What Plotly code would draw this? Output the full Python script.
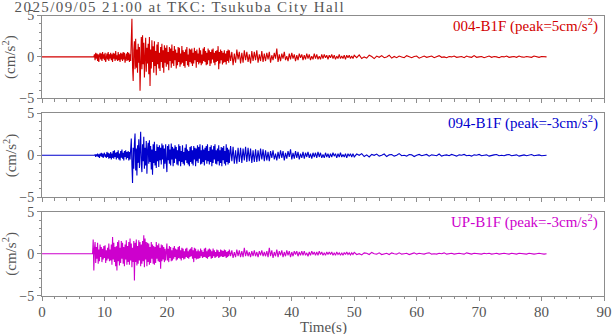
import numpy as np
import plotly.graph_objects as go
from plotly.subplots import make_subplots

# ---- Recorded accelerations (cm/s^2) ------------------------------------
RECORD_START = 0.0                 # quiet record before the first arrival
STRONG_T0, STRONG_DT = 8.0, 0.1    # strong motion, 8.0 .. 29.9 s
EARLY_T0, EARLY_DT = 30.0, 0.2     # early coda, 30.0 .. 49.8 s
LATE_T0, LATE_DT = 50.0, 0.4       # late coda, 50.0 .. 80.8 s

channels = ["004-B1F", "094-B1F", "UP-B1F"]
peaks = ["5", "-3", "-3"]
colors = ["#d20000", "#0000cd", "#cd00cd"]

ns004_strong = [
    0.0, 0.0, 0.0, 0.0, 0.3, -0.4, 0.5, -0.2, 0.4, -0.5,
    0.3, -0.6, 0.2, 0.5, -0.3, 0.4, -0.5, 0.6, -0.2, 0.3,
    -0.4, 0.5, -0.6, 0.2, 0.4, -0.3, 0.6, -0.5, 0.3, -0.2,
    0.5, -0.4, 0.3, -0.6, 0.5, -0.2, 0.4, -0.5, 0.7, -0.3,
    0.2, -0.5, 0.6, -0.4, 0.3, -0.6, 0.5, -0.3, 0.4, -0.5,
    0.6, -0.3, 0.5, -0.7, 0.2, 0.4, -0.5, 0.6, -0.4, 0.5,
    -0.6, 0.3, -0.5, 1.5, 4.6, -1.2, -2.9, 0.8, 1.9, -1.5,
    2.2, -1.3, 0.9, -1.9, 1.6, -0.7, 1.2, -4.1, 0.6, 2.4,
    -1.5, 2.6, -0.9, 1.7, -2.5, 0.6, 2.3, -1.8, 1.1, -0.8,
    1.6, -2.1, 2.4, -3.5, 0.9, -1.4, 2.0, -0.6, 1.3, -1.9,
    1.9, -1.1, 0.7, -2.2, 1.5, -0.9, 1.8, -1.4, 0.5, -1.7,
    1.2, -0.6, 1.6, -1.3, 0.8, -1.9, 1.4, -0.7, 1.1, -1.2,
    1.4, -0.9, 0.6, -1.6, 1.2, -0.5, 1.0, -1.3, 1.5, -0.8,
    0.7, -1.1, 1.3, -0.4, 0.9, -1.4, 0.5, -1.0, 1.2, -0.6,
    1.1, -1.2, 0.4, -0.9, 1.3, -0.7, 0.8, -1.1, 0.6, -1.3,
    0.9, -0.5, 1.2, -1.0, 0.3, -1.2, 1.0, -0.6, 0.9, -0.8,
    1.0, -1.1, 0.5, -0.8, 1.1, -0.4, 0.7, -1.3, 0.9, -0.6,
    0.4, -0.9, 1.1, -0.7, 0.8, -1.0, 0.3, -0.8, 1.0, -0.5,
    1.2, -0.6, 0.7, -1.0, 0.5, -0.9, 1.0, -0.4, 0.8, -1.1,
    0.6, -0.8, 0.9, -0.3, 1.0, -0.7, 0.5, -1.0, 0.7, -0.6,
    0.8, -0.5, 1.3, -1.5, 0.6, -0.8, 0.9, -0.4, 0.7, -0.9,
    0.5, -0.7, 0.8, -0.6, 0.4, -0.9, 0.7, -0.5, 0.9, -0.7,
]
ns004_early = [
    0.8, -0.5, 0.6, -1.0, 0.4, -0.7, 0.9, -0.3, 0.6, -0.8,
    0.5, -0.7, 0.8, -0.4, 0.6, -0.6, 0.3, -0.8, 0.7, -0.5,
    0.6, -0.4, 0.8, -0.7, 0.3, -0.5, 0.7, -0.6, 0.4, -0.5,
    0.5, -0.3, 0.6, -0.7, 0.2, -0.4, 0.5, -0.2, 1.0, -0.6,
    0.3, -0.5, 0.4, -0.2, 0.6, -0.4, 0.1, -0.5, 0.4, -0.3,
    0.5, -0.2, 0.3, -0.5, 0.2, -0.4, 0.4, -0.1, 0.3, -0.4,
    0.2, -0.3, 0.4, -0.2, 0.3, -0.4, 0.1, -0.3, 0.4, -0.2,
    0.3, -0.3, 0.1, -0.3, 0.3, -0.2, 0.3, -0.1, 0.2, -0.3,
    0.2, -0.1, 0.3, -0.2, 0.2, -0.3, 0.1, -0.2, 0.3, -0.2,
    0.1, -0.2, 0.2, -0.3, 0.2, -0.1, 0.2, -0.2, 0.1, -0.2,
]
ns004_late = [
    0.2, -0.1, 0.25, -0.2, 0.0, -0.15, 0.2, 0.05, -0.2, 0.1,
    -0.05, 0.15, -0.1, 0.0, 0.2, -0.15, 0.05, -0.1, 0.1, 0.0,
    -0.1, 0.15, 0.0, -0.1, 0.05, 0.1, -0.15, 0.0, 0.1, -0.05,
    0.0, 0.1, -0.1, 0.05, 0.15, -0.05, 0.0, -0.1, 0.05, 0.0,
    0.1, -0.05, 0.0, 0.05, -0.1, 0.1, 0.0, -0.05, 0.15, -0.05,
    0.0, 0.05, -0.1, 0.0, 0.1, -0.05, 0.05, 0.0, -0.1, 0.05,
    0.0, 0.1, -0.05, 0.0, 0.05, -0.05, 0.1, 0.0, -0.05, 0.05,
    0.0, -0.05, 0.1, 0.0, -0.05, 0.05, 0.0, 0.0,
]

ew094_strong = [
    0.0, 0.0, 0.0, 0.0, 0.0, 0.1, -0.2, 0.1, -0.1, 0.2,
    -0.2, 0.1, -0.3, 0.2, -0.1, 0.3, -0.2, 0.2, -0.3, 0.1,
    0.3, -0.2, 0.1, -0.3, 0.4, -0.2, 0.3, -0.4, 0.2, -0.3,
    0.4, -0.5, 0.2, -0.3, 0.5, -0.4, 0.6, -0.2, 0.3, -0.5,
    0.4, -0.3, 0.6, -0.5, 0.2, -0.6, 0.5, -0.3, 0.7, -0.4,
    0.3, -0.6, 0.5, -0.2, 0.6, -0.5, 0.4, -0.3, 0.5, -0.6,
    0.4, -0.5, 0.7, 2.0, -1.2, -3.3, 0.9, -1.6, 1.4, 2.6,
    -1.8, 0.8, -2.4, 1.2, -0.9, 1.9, -1.5, 0.6, 2.8, -1.1,
    -2.0, 1.3, -0.7, 2.2, -1.6, 0.9, -1.2, 1.7, -2.2, 0.6,
    1.5, -1.0, 1.8, -0.8, 1.1, -1.7, 0.7, -2.3, 1.3, -0.9,
    1.6, -1.2, 0.5, -1.5, 1.3, -0.7, 1.0, -1.4, 1.2, -0.6,
    0.9, -1.1, 1.4, -0.5, 1.2, -1.6, 0.8, -1.0, 1.3, -0.8,
    -2.0, 1.1, -0.6, 1.3, -1.0, 0.7, -1.2, 1.4, -0.5, 1.0,
    -1.3, 0.8, -0.9, 1.2, -0.4, 1.0, -1.1, 0.6, -1.2, 1.3,
    -0.7, 1.1, -1.3, 0.5, -0.8, 1.2, -1.0, 0.4, -1.2, 0.9,
    -0.6, 1.3, -0.9, 0.7, -1.1, 0.5, -1.3, 1.0, -0.8, 1.1,
    -1.0, 0.6, -1.2, 1.1, -0.5, 0.9, -1.3, 0.8, -0.7, 1.2,
    -0.9, 1.0, -0.4, 1.3, -1.1, 0.6, -1.0, 1.2, -0.8, 0.7,
    -1.2, 0.9, -0.6, 1.1, -1.0, 1.3, -0.7, 0.5, -1.1, 1.0,
    -0.8, 1.2, -1.3, 0.7, -0.9, 1.1, -0.5, 1.3, -1.0, 0.6,
    -1.1, 0.8, -0.7, 1.2, -1.2, 0.6, -0.9, 1.0, -1.3, 0.9,
    -0.6, 1.1, -1.0, 0.5, -1.2, 1.3, -0.8, 0.9, -1.1, 0.7,
]
ew094_early = [
    -0.9, 1.1, -0.7, 1.0, -1.0, 0.6, -1.0, 0.9, -0.8, 0.9,
    -0.9, 0.8, -0.6, 1.0, -0.8, 0.9, -0.7, 0.8, -0.9, 0.6,
    -0.8, 0.7, -0.8, 0.6, -0.7, 0.8, -0.5, 0.7, -0.7, 0.6,
    -0.6, 0.4, -0.7, 0.5, -0.3, 0.6, -0.5, 0.2, -0.6, 0.4,
    -0.4, 0.6, -0.3, 0.5, -0.6, 0.3, -0.4, 0.5, -0.2, 0.7,
    -0.5, 0.3, -0.4, 0.5, -0.3, 0.4, -0.5, 0.2, -0.3, 0.4,
    -0.4, 0.3, -0.2, 0.4, -0.3, 0.2, -0.4, 0.3, -0.2, 0.3,
    -0.3, 0.4, -0.2, 0.3, -0.3, 0.1, -0.3, 0.3, -0.2, 0.2,
    -0.3, 0.2, -0.2, 0.3, -0.1, 0.2, -0.3, 0.2, -0.2, 0.3,
    -0.2, 0.1, -0.2, 0.2, -0.3, 0.2, -0.1, 0.2, -0.2, 0.2,
]
ew094_late = [
    -0.2, 0.15, 0.0, 0.2, -0.15, 0.05, -0.2, 0.1, 0.0, 0.15,
    -0.1, 0.0, 0.15, -0.15, 0.05, 0.1, -0.1, 0.0, 0.2, -0.05,
    0.0, -0.1, 0.1, 0.05, -0.15, 0.0, 0.1, -0.05, 0.0, 0.1,
    -0.1, 0.05, 0.0, -0.05, 0.15, -0.1, 0.0, 0.05, -0.05, 0.1,
    0.0, -0.1, 0.05, 0.0, 0.1, -0.05, 0.0, -0.1, 0.05, 0.0,
    0.1, -0.05, 0.0, 0.05, -0.1, 0.0, 0.05, 0.1, -0.05, 0.0,
    -0.05, 0.05, 0.1, -0.05, 0.0, 0.05, -0.1, 0.0, 0.05, -0.05,
    0.0, 0.1, -0.05, 0.0, 0.05, -0.05, 0.0, 0.0,
]

ud_strong = [
    0.0, 0.0, 1.7, -2.0, 0.6, 1.4, -1.1, 0.8, -0.6, 1.3,
    -1.2, 0.5, -0.9, 1.1, -0.4, 0.8, -1.0, 0.6, -0.7, 0.9,
    -0.5, 1.0, -1.1, 0.4, -0.8, 0.7, -0.6, 1.2, -0.9, 0.5,
    -0.8, 1.1, -1.3, 2.0, -0.7, 1.3, -1.0, 0.8, -1.5, 0.9,
    -2.0, 1.4, -0.9, 1.6, -1.4, 0.7, -1.1, 1.5, -0.6, 1.3,
    -1.2, 0.8, -1.5, 1.1, -0.7, 1.6, -1.3, 0.9, -1.0, 1.4,
    -1.3, 1.8, -0.8, 1.2, -1.6, 0.7, -1.0, 1.5, -3.2, 1.3,
    -1.0, 1.7, -1.4, 0.9, -1.2, 1.6, -0.8, 1.4, -1.5, 1.1,
    -1.2, 1.5, -0.9, 2.2, -1.6, 1.8, -0.7, 1.4, -1.5, 1.3,
    -1.0, 1.2, -1.3, 0.8, -1.1, 1.4, -0.6, 1.1, -1.2, 0.9,
    -1.3, 0.8, -1.1, 1.4, -0.6, 1.0, -0.9, 1.2, -1.0, 0.7,
    -1.8, 1.1, -0.9, 1.0, -0.7, 0.8, -1.0, 0.6, -0.8, 0.9,
    1.2, -0.8, 0.6, -1.0, 0.9, -0.5, 0.8, -0.9, 0.4, -0.8,
    0.7, -0.6, 0.9, -0.4, 0.6, -0.8, 0.5, -0.7, 0.8, -0.5,
    0.9, -0.6, 0.4, -0.8, 0.7, -0.5, 0.6, -0.7, 0.3, -0.6,
    0.6, -0.4, 0.7, -0.5, 0.3, -0.6, 0.5, -0.4, 0.6, -0.3,
    0.8, -0.6, 0.4, -1.0, 0.7, -0.5, 0.6, -0.7, 0.3, -0.6,
    0.5, -0.6, 0.3, -0.5, 0.6, -0.3, 0.4, -0.5, 0.2, -0.4,
    0.6, -0.4, 0.7, -0.5, 0.3, -0.6, 0.5, -0.4, 0.6, -0.3,
    0.5, -0.6, 0.3, -0.5, 0.6, -0.3, 0.4, -0.5, 0.2, -0.4,
    0.5, -0.3, 0.4, -0.5, 0.2, -0.4, 0.5, -0.3, 0.4, -0.4,
    0.3, -0.4, 0.5, -0.3, 0.4, -0.5, 0.2, -0.4, 0.3, -0.3,
]
ud_early = [
    0.5, -0.3, 0.4, -0.5, 0.2, -0.4, 0.5, -0.3, 0.4, -0.4,
    0.3, -0.4, 0.7, -0.3, 0.4, -0.3, 0.2, -0.4, 0.3, -0.3,
    0.4, -0.3, 0.2, -0.4, 0.3, -0.2, 0.4, -0.3, 0.2, -0.3,
    0.3, -0.4, 0.7, -0.3, 0.4, -0.5, 0.2, -0.3, 0.5, -0.4,
    0.3, -0.2, 0.4, -0.4, 0.2, -0.3, 0.4, -0.2, 0.3, -0.4,
    0.2, -0.3, 0.3, -0.1, 0.3, -0.3, 0.2, -0.2, 0.3, -0.2,
    0.3, -0.2, 0.1, -0.3, 0.2, -0.2, 0.3, -0.1, 0.2, -0.2,
    0.2, -0.2, 0.3, -0.1, 0.2, -0.2, 0.1, -0.2, 0.2, -0.1,
    0.2, -0.1, 0.2, -0.2, 0.1, -0.2, 0.2, -0.1, 0.1, -0.2,
    0.1, -0.2, 0.15, -0.1, 0.2, -0.1, 0.1, -0.15, 0.1, -0.1,
]
ud_late = [
    0.15, -0.1, 0.0, -0.15, 0.1, 0.05, -0.1, 0.15, 0.0, -0.05,
    0.1, -0.1, 0.0, 0.05, -0.1, 0.1, 0.0, -0.05, 0.1, -0.05,
    0.0, 0.05, -0.1, 0.0, 0.1, -0.05, 0.05, 0.0, -0.05, 0.05,
    0.1, -0.05, 0.0, -0.05, 0.05, 0.0, 0.1, -0.05, 0.0, 0.05,
    -0.05, 0.0, 0.05, 0.0, -0.05, 0.1, 0.0, -0.05, 0.05, 0.0,
    0.0, -0.05, 0.05, 0.0, 0.05, -0.05, 0.0, 0.05, -0.05, 0.0,
    0.05, 0.0, -0.05, 0.05, 0.0, -0.05, 0.05, 0.0, 0.0, -0.05,
    0.05, 0.0, -0.05, 0.0, 0.05, 0.0, -0.05, 0.0,
]

records = [
    (ns004_strong, ns004_early, ns004_late),
    (ew094_strong, ew094_early, ew094_late),
    (ud_strong, ud_early, ud_late),
]

# ---- Page geometry (pixels) ---------------------------------------------
W, H = 612, 334
ML, MR, MT, MB = 42, 8, 15, 38
panel_px = [(15.5, 98.3), (113.3, 197.3), (211.7, 295.7)]
plot_h = H - MT - MB
domains = [[1 - (b - MT) / plot_h, 1 - (t - MT) / plot_h] for t, b in panel_px]
domains = [[max(0.0, d0), min(1.0, d1)] for d0, d1 in domains]

FONT = "Liberation Serif"
TXT = "#555555"
AX = "#8c8c8c"

fig = make_subplots(rows=3, cols=1, shared_xaxes=False)

for i, ((strong, early, late), color) in enumerate(zip(records, colors)):
    t = np.concatenate([
        [RECORD_START],
        STRONG_T0 + STRONG_DT * np.arange(len(strong)),
        EARLY_T0 + EARLY_DT * np.arange(len(early)),
        LATE_T0 + LATE_DT * np.arange(len(late)),
    ])
    a = np.concatenate([[0.0], strong, early, late])
    fig.add_trace(
        go.Scatter(x=t, y=a, mode="lines", line=dict(color=color, width=1.1),
                   showlegend=False, hoverinfo="skip"),
        row=i + 1, col=1,
    )

for i in range(3):
    last = i == 2
    fig.update_xaxes(
        row=i + 1, col=1, range=[0, 90], tick0=0, dtick=10, automargin=False,
        ticks="outside", ticklen=4, tickcolor=AX, tickwidth=1,
        minor=dict(dtick=2, ticks="outside", ticklen=2.5, tickcolor=AX),
        showticklabels=last, ticklabelstandoff=-2,
        showgrid=False, zeroline=False,
        showline=True, linecolor=AX, linewidth=1, mirror=True,
        tickfont=dict(family=FONT, size=15, color=TXT),
    )
    fig.update_yaxes(
        row=i + 1, col=1, range=[-5, 5], tickvals=[-5, 0, 5], automargin=False,
        ticks="outside", ticklen=4, tickcolor=AX, tickwidth=1,
        minor=dict(dtick=1, ticks="outside", ticklen=2.5, tickcolor=AX),
        showgrid=False, zeroline=False,
        showline=True, linecolor=AX, linewidth=1, mirror=True,
        tickfont=dict(family=FONT, size=14, color=TXT),
        domain=domains[i],
    )

for i in range(3):
    d0, d1 = domains[i]
    fig.add_annotation(
        xref="paper", yref="paper", x=(10 - ML) / (W - ML - MR), y=(d0 + d1) / 2,
        text="(cm/s<sup>2</sup>)", textangle=-90, showarrow=False,
        xanchor="center", yanchor="middle",
        font=dict(family=FONT, size=15, color=TXT),
    )
    fig.add_annotation(
        xref="paper", yref="paper", x=1, y=d1, xanchor="right", yanchor="top",
        xshift=-4, yshift=2, showarrow=False,
        text=f"{channels[i]} (peak={peaks[i]}cm/s<sup>2</sup>)",
        font=dict(family=FONT, size=15, color=colors[i]),
    )

# x-axis title under the bottom panel
fig.add_annotation(
    xref="paper", yref="paper", x=0.5, y=1 - (327 - MT) / plot_h,
    xanchor="center", yanchor="middle", showarrow=False,
    text="Time(s)", font=dict(family=FONT, size=15, color=TXT),
)

fig.add_annotation(
    xref="paper", yref="paper", x=0, y=1, xanchor="left", yanchor="bottom",
    yshift=-2, showarrow=False,
    text="2025/09/05 21:00 at TKC: Tsukuba City Hall",
    font=dict(family=FONT, size=15, color=TXT),
)

fig.update_layout(
    width=W, height=H, margin=dict(l=ML, r=MR, t=MT, b=MB),
    paper_bgcolor="white", plot_bgcolor="white",
)

# Widen the tracking of the header line, as in the station plots.
post = """
var gd = document.getElementById('{plot_id}');
function spaceHeader() {
  gd.querySelectorAll('text.annotation-text').forEach(function (t) {
    if (t.textContent.indexOf('Tsukuba') >= 0) { t.style.letterSpacing = '1.4px'; }
  });
}
spaceHeader();
gd.on('plotly_afterplot', spaceHeader);
"""

fig.write_html("out.html", post_script=post)
